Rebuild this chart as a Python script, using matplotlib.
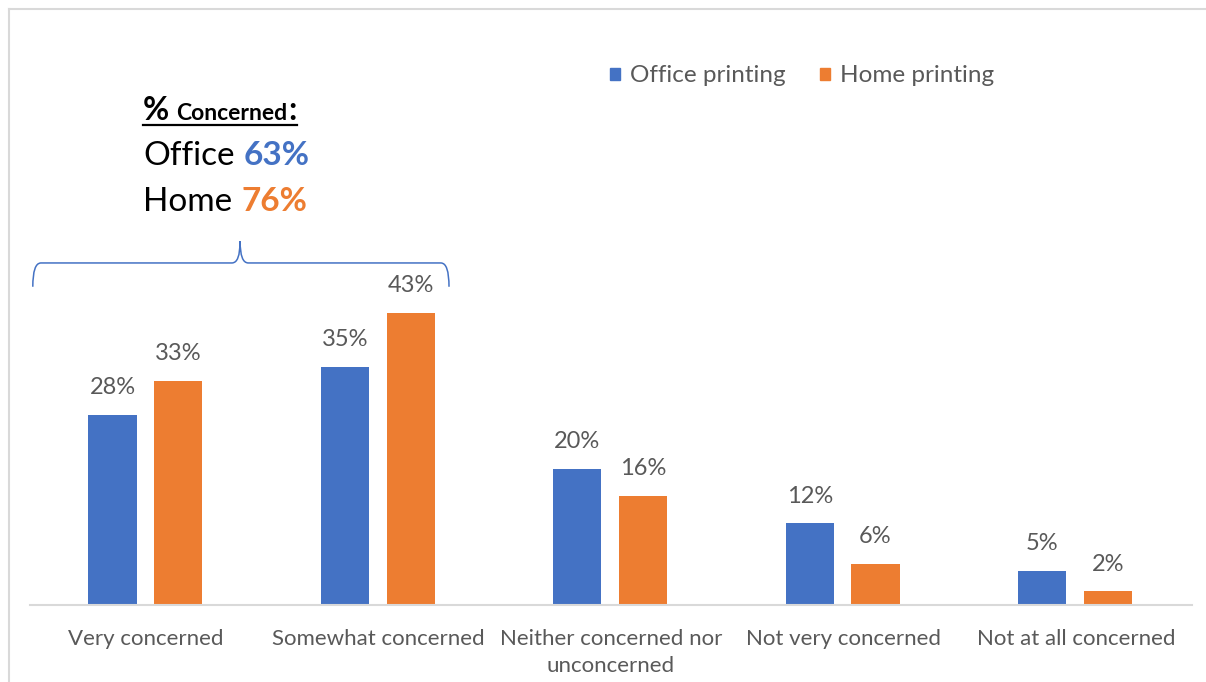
import matplotlib
matplotlib.use("Agg")
import matplotlib.pyplot as plt
from matplotlib.patches import Patch, PathPatch
from matplotlib.path import Path
from matplotlib.lines import Line2D
import numpy as np

plt.rcParams['font.family'] = ['Lato', 'DejaVu Sans']

categories = ["Very concerned", "Somewhat concerned", "Neither concerned nor\nunconcerned",
              "Not very concerned", "Not at all concerned"]
office = [28, 35, 20, 12, 5]
home = [33, 43, 16, 6, 2]
office_total = 63
home_total = 76

BLUE = "#4472C4"
ORANGE = "#ED7D31"
GREY = "#595959"
W, H = 1206, 682

fig = plt.figure(figsize=(12.06, 6.82), dpi=100)
ax = fig.add_axes([30 / W, 77 / H, 1162 / W, 544 / H])

x = np.arange(len(categories))
bw = 0.207
ax.bar(x - 0.145, office, bw, color=BLUE, label="Office printing")
ax.bar(x + 0.138, home, bw, color=ORANGE, label="Home printing")

for xi, v in zip(x - 0.145, office):
    ax.annotate(f"{v}%", (xi, v), xytext=(0, 15), textcoords="offset points",
                ha="center", va="baseline", fontsize=17, color=GREY)
for xi, v in zip(x + 0.138, home):
    ax.annotate(f"{v}%", (xi, v), xytext=(0, 15), textcoords="offset points",
                ha="center", va="baseline", fontsize=17, color=GREY)

ax.set_xlim(-0.5, 4.5)
ax.set_ylim(0, 80)
ax.set_xticks(x)
ax.set_xticklabels(categories, fontsize=16, color=GREY, linespacing=1.45)
ax.tick_params(axis="x", length=0, pad=17)
ax.set_yticks([])
for s in ["top", "right", "left"]:
    ax.spines[s].set_visible(False)
ax.spines["bottom"].set_color("#D9D9D9")
ax.spines["bottom"].set_linewidth(1.5)

# brace over the two "concerned" groups
x0, x1, tip = -0.488, 1.303, 0.404
yh, ye, yt = 50.3, 46.8, 53.5
r = 0.035
verts = [(x0, ye), (x0, yh), (x0 + r, yh), (tip - r, yh), (tip, yh), (tip, yt),
         (tip, yh), (tip + r, yh), (x1 - r, yh), (x1, yh), (x1, ye)]
codes = [Path.MOVETO, Path.CURVE3, Path.CURVE3, Path.LINETO, Path.CURVE3, Path.CURVE3,
         Path.CURVE3, Path.CURVE3, Path.LINETO, Path.CURVE3, Path.CURVE3]
ax.add_patch(PathPatch(Path(verts, codes), fill=False, edgecolor=BLUE, lw=1.1, clip_on=False))

# legend
handles = [Patch(color=BLUE), Patch(color=ORANGE)]
fig.legend(handles, ["Office printing", "Home printing"], loc="center",
           bbox_to_anchor=(802 / W, 1 - 76 / H), ncol=2, frameon=False,
           fontsize=17.5, handlelength=0.42, handleheight=0.42,
           handletextpad=0.4, columnspacing=1.4, labelcolor=GREY)

# summary text, placed piece by piece
fig.canvas.draw()
rend = fig.canvas.get_renderer()


def put(s, px, py, **kw):
    t = fig.text(px / W, 1 - py / H, s, va="baseline", ha="left", **kw)
    return px + t.get_window_extent(rend).width


px = put("%", 143, 120, fontsize=23, fontweight="bold", color="black")
px = put("Concerned", px + 7, 120, fontsize=16.5, fontweight="bold", color="black")
px = put(":", px + 1, 120, fontsize=23, fontweight="bold", color="black")
fig.add_artist(Line2D([143 / W, px / W], [1 - 124.5 / H, 1 - 124.5 / H], color="black", lw=1.6))

px = put("Office", 143, 165, fontsize=24, color="black")
put(f"{office_total}%", px + 9, 165, fontsize=24, fontweight="bold", color=BLUE)
px = put("Home", 143, 211, fontsize=24, color="black")
put(f"{home_total}%", px + 9, 211, fontsize=24, fontweight="bold", color=ORANGE)

# outer frame (top and left edges visible)
fig.add_artist(Line2D([9 / W, 9 / W], [0, 1 - 9 / H], color="#D9D9D9", lw=1.5))
fig.add_artist(Line2D([9 / W, 1], [1 - 9 / H, 1 - 9 / H], color="#D9D9D9", lw=1.5))

fig.savefig("out.png", dpi=100)
